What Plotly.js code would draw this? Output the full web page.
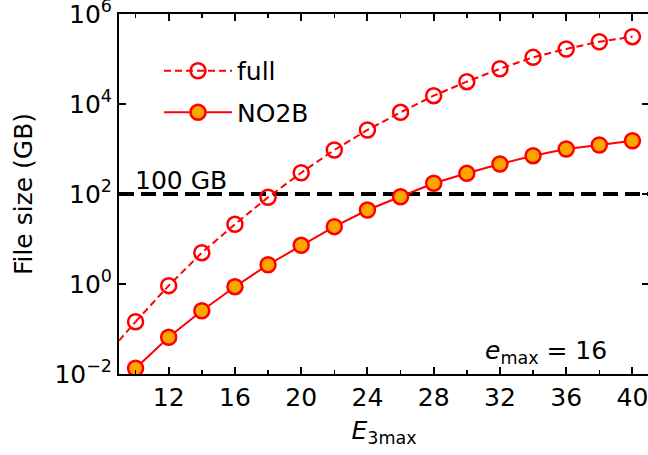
<!DOCTYPE html>
<html>
<head>
<meta charset="utf-8">
<script src="https://cdn.plot.ly/plotly-3.0.1.min.js"></script>
<style>
html,body{margin:0;padding:0;overflow:hidden;background:#fff;}
#chart{width:649px;height:455px;}
</style>
</head>
<body>
<div id="chart"></div>
<script>
// E3max values
const e3max = [10, 12, 14, 16, 18, 20, 22, 24, 26, 28, 30, 32, 34, 36, 38, 40];
// File size (GB), full storage
const fullGB = [0.145, 0.92, 4.96, 21.2, 84.5, 297, 950, 2645, 6540, 15300, 31300, 60600, 109000, 167000, 242000, 313000];
// File size (GB), NO2B storage
const no2bGB = [0.0134, 0.0655, 0.255, 0.871, 2.68, 7.24, 18.8, 44.1, 87, 173, 288, 464, 710, 1000, 1228, 1528];
// curve continuation to the left edge of the axes
const extX = [9, 10];
const extFull = [0.055, 0.145];
const extNO2B = [0.006, 0.0134];
// threshold
const limitGB = 100;
const limitLabel = "100 GB";
// y tick labels
const yTickVals = [0.01, 1, 100, 1e4, 1e6];
const yTickText = ["10<sup>\u22122</sup>", "10<sup>0</sup>", "10<sup>2</sup>", "10<sup>4</sup>", "10<sup>6</sup>"];

const red = "#ff0000";
const orange = "#ffa500";
const FONT = "DejaVu Sans";
const FS = 25;

const traces = [
  {x: extX, y: extFull, mode: "lines", line: {color: red, width: 2, dash: "7px,4px"}, showlegend: false, hoverinfo: "skip"},
  {x: extX, y: extNO2B, mode: "lines", line: {color: red, width: 2}, showlegend: false, hoverinfo: "skip"},
  {x: e3max, y: fullGB, name: "full", mode: "lines+markers", legendgroup: "g1",
   line: {color: red, width: 2, dash: "7px,4px"},
   marker: {symbol: "circle-open", size: 15, color: red, line: {color: red, width: 2.5}}},
  {x: e3max, y: no2bGB, name: "NO2B", mode: "lines+markers", legendgroup: "g2",
   line: {color: red, width: 2},
   marker: {symbol: "circle", size: 15, color: orange, line: {color: red, width: 2.5}}}
];

const layout = {
  width: 649, height: 455,
  margin: {l: 119, r: 0, t: 14, b: 81},
  paper_bgcolor: "#fff", plot_bgcolor: "#fff",
  font: {family: FONT, size: FS, color: "#000"},
  showlegend: true,
  legend: {x: 0.0755, y: 0.9056, xanchor: "left", yanchor: "top", bgcolor: "rgba(0,0,0,0)",
           font: {family: FONT, size: FS, color: "#000"}, itemwidth: 68, tracegroupgap: 6},
  xaxis: {
    range: [9, 41], showgrid: false, zeroline: false,
    showline: true, linecolor: "#000", linewidth: 2, mirror: "ticks",
    ticks: "inside", ticklen: 7, tickwidth: 2, tickcolor: "#000",
    tick0: 0, dtick: 4,
    minor: {ticks: "inside", ticklen: 4, tickwidth: 1.5, tickcolor: "#000", dtick: 2, tick0: 0, showgrid: false},
    tickfont: {family: FONT, size: FS},
    title: {text: "<i>E</i><sub>3max</sub>", font: {family: FONT, size: FS}, standoff: 10}
  },
  yaxis: {
    type: "log", range: [-2, 6], showgrid: false, zeroline: false,
    showline: true, linecolor: "#000", linewidth: 2, mirror: "ticks",
    ticks: "inside", ticklen: 7, tickwidth: 2, tickcolor: "#000",
    tickmode: "array", tickvals: yTickVals, ticktext: yTickText,
    ticklabeloverflow: "allow",
    tickfont: {family: FONT, size: FS},
    title: {text: "File size (GB)", font: {family: FONT, size: FS}, standoff: 15}
  },
  shapes: [
    {type: "line", xref: "paper", x0: 0, x1: 1, yref: "y", y0: limitGB, y1: limitGB,
     layer: "below", line: {color: "#000", width: 4, dash: "15px,7px"}}
  ],
  annotations: [
    {text: limitLabel, xref: "x", x: 10, yref: "y", y: Math.log10(limitGB), xanchor: "left", yanchor: "bottom",
     showarrow: false, font: {family: FONT, size: FS}, xshift: -3, yshift: -3},
    {text: "<i>e</i><sub>max</sub> = 16", xref: "paper", x: 0.924, yref: "paper", y: 0.012,
     xanchor: "right", yanchor: "bottom", showarrow: false, font: {family: FONT, size: FS}}
  ]
};

Plotly.newPlot("chart", traces, layout, {displayModeBar: false, staticPlot: true});
</script>
</body>
</html>
